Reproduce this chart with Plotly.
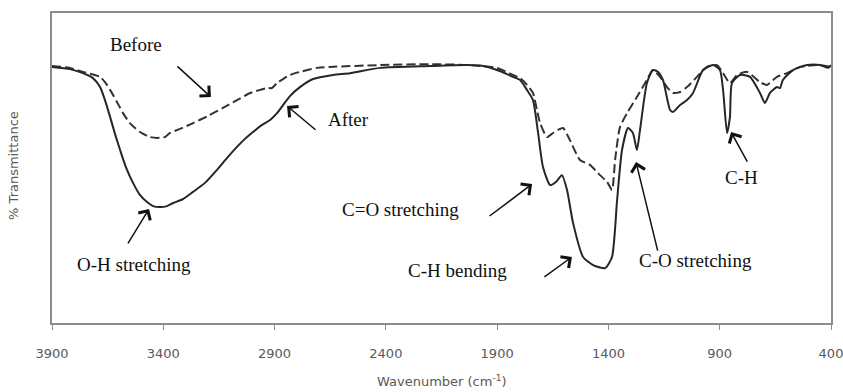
import plotly.graph_objects as go

# Wavenumber (cm-1) and % transmittance (arbitrary 0-100 scale)
after_wn = [3900, 3819, 3761, 3716, 3684, 3662, 3639, 3617, 3594, 3568, 3536, 3505, 3473, 3446,
            3415, 3383, 3356, 3311, 3266, 3213, 3159, 3114, 3069, 3033, 2997, 2956, 2920, 2889,
            2862, 2831, 2786, 2727, 2637, 2561, 2426, 2202, 2035, 1963, 1901, 1856, 1829, 1797,
            1766, 1739, 1716, 1694, 1662, 1636, 1609, 1586, 1559, 1514, 1469, 1415, 1384, 1361,
            1339, 1312, 1290, 1272, 1258, 1227, 1200, 1177, 1155, 1123, 1110, 1078, 1047, 1020,
            975, 930, 899, 885, 867, 854, 845, 809, 764, 719, 697, 674, 643, 629, 616, 571, 508,
            449, 413, 400]
after_t = [82.6, 81.9, 80.6, 79.0, 76.1, 71.9, 66.5, 61.0, 55.8, 50.3, 45.2, 41.3, 39.0, 37.7,
           37.4, 37.7, 38.7, 40.0, 42.3, 45.2, 49.4, 53.2, 56.8, 59.4, 61.6, 63.9, 65.5, 67.7,
           70.3, 73.2, 76.1, 78.7, 80.0, 80.6, 82.3, 82.9, 83.2, 82.9, 81.6, 80.3, 79.4, 78.4,
           75.2, 71.9, 61.3, 50.3, 44.5, 45.5, 47.7, 42.9, 32.3, 21.3, 18.7, 17.7, 21.3, 39.7,
           55.8, 62.9, 61.3, 55.8, 62.3, 77.4, 81.6, 81.0, 78.4, 68.7, 68.1, 70.3, 71.9, 74.2,
           81.6, 83.2, 81.6, 75.2, 61.3, 66.5, 77.4, 80.0, 79.4, 74.2, 71.0, 74.2, 76.1, 75.8,
           78.4, 81.6, 83.2, 83.2, 82.3, 83.2]

before_wn = [3900, 3819, 3761, 3684, 3662, 3639, 3608, 3581, 3550, 3505, 3460, 3428, 3392, 3370,
             3325, 3266, 3199, 3132, 3069, 3010, 2965, 2934, 2912, 2889, 2862, 2831, 2786, 2709,
             2651, 2426, 2202, 2035, 1901, 1829, 1797, 1766, 1739, 1721, 1707, 1676, 1649, 1627,
             1604, 1573, 1528, 1483, 1438, 1406, 1384, 1370, 1348, 1316, 1272, 1227, 1200, 1168,
             1137, 1110, 1078, 1047, 1002, 957, 912, 885, 854, 822, 777, 719, 688, 643, 598, 539,
             449, 400]
before_t = [82.9, 82.3, 81.0, 79.4, 77.7, 75.2, 71.3, 67.7, 64.5, 61.6, 60.0, 59.7, 60.0, 61.3,
            62.6, 64.5, 66.8, 69.4, 71.9, 74.2, 75.2, 75.8, 75.8, 77.4, 78.7, 80.0, 81.0, 82.3,
            82.6, 83.2, 83.5, 83.2, 82.3, 80.0, 79.0, 76.8, 74.2, 68.7, 64.5, 60.0, 61.3, 62.3,
            62.9, 59.0, 52.6, 51.0, 47.7, 45.5, 42.9, 52.6, 63.2, 67.7, 72.9, 78.4, 81.6, 79.4,
            76.1, 74.2, 74.5, 76.1, 79.4, 82.6, 83.2, 80.6, 77.4, 80.0, 81.0, 77.7, 76.8, 79.4,
            80.6, 82.6, 83.2, 82.6]

tick_vals = [3900, 3400, 2900, 2400, 1900, 1400, 900, 400]

# labels: (text, wavenumber, T)
labels = [("Before", 3523, 89.7), ("After", 2570, 65.5), ("O-H stretching", 3532, 19.0),
          ("C=O stretching", 2332, 36.5), ("C-H bending", 2076, 16.8),
          ("C-O stretching", 1011, 20.3), ("C-H", 804, 46.8)]
# arrows: (head wavenumber, head T, tail dx px, tail dy px)
arrows = [(3186, 72.9, -35, -32), (2844, 70.0, 30, 25), (3464, 36.8, -22, 36),
          (1743, 44.8, -44, 33), (1564, 21.3, -29, 21), (1276, 51.9, 22, 90),
          (849, 61.6, 17, 31)]

fig = go.Figure()
fig.add_trace(go.Scatter(x=before_wn, y=before_t, mode="lines", name="Before",
                         line=dict(color="#333333", width=2, dash="9px,4px",
                                   shape="spline", smoothing=0.6)))
fig.add_trace(go.Scatter(x=after_wn, y=after_t, mode="lines", name="After",
                         line=dict(color="#262626", width=2, shape="spline", smoothing=0.6)))

for text, x, y in labels:
    fig.add_annotation(x=x, y=y, text=text, showarrow=False, xref="x", yref="y",
                       font=dict(family="Liberation Serif", size=19, color="#111111"))
for x, y, ax, ay in arrows:
    fig.add_annotation(x=x, y=y, ax=ax, ay=ay, text="", showarrow=True, xref="x", yref="y",
                       arrowhead=4, arrowsize=1.8, arrowwidth=1.5, arrowcolor="#111111")

axis_font = dict(family="DejaVu Sans", size=13, color="#595959")
fig.add_annotation(text="Wavenumber (cm<sup>-1</sup>)", xref="paper", yref="paper",
                   x=0.5, y=-0.187, xanchor="center", yanchor="middle", showarrow=False,
                   font=axis_font)
fig.add_annotation(text="% Transmittance", xref="paper", yref="paper", textangle=-90,
                   x=-0.0488, y=0.51, xanchor="center", yanchor="middle", showarrow=False,
                   font=axis_font)

fig.update_layout(
    width=843, height=392, margin=dict(l=52, r=12, t=13, b=69),
    paper_bgcolor="white", plot_bgcolor="white", showlegend=False,
    xaxis=dict(range=[3900, 400], tickvals=tick_vals, ticks="outside", ticklen=5,
               tickcolor="#8c8c8c", showline=True, linecolor="#8c8c8c", linewidth=1.5,
               mirror=True, showgrid=False, zeroline=False, tickfont=axis_font,
               ticklabelstandoff=13, automargin=False, ticklabeloverflow="allow"),
    yaxis=dict(range=[0, 100], showticklabels=False, ticks="", showline=True,
               linecolor="#8c8c8c", linewidth=1.5, mirror=True, showgrid=False,
               zeroline=False, automargin=False),
)
fig.write_html("out.html")
